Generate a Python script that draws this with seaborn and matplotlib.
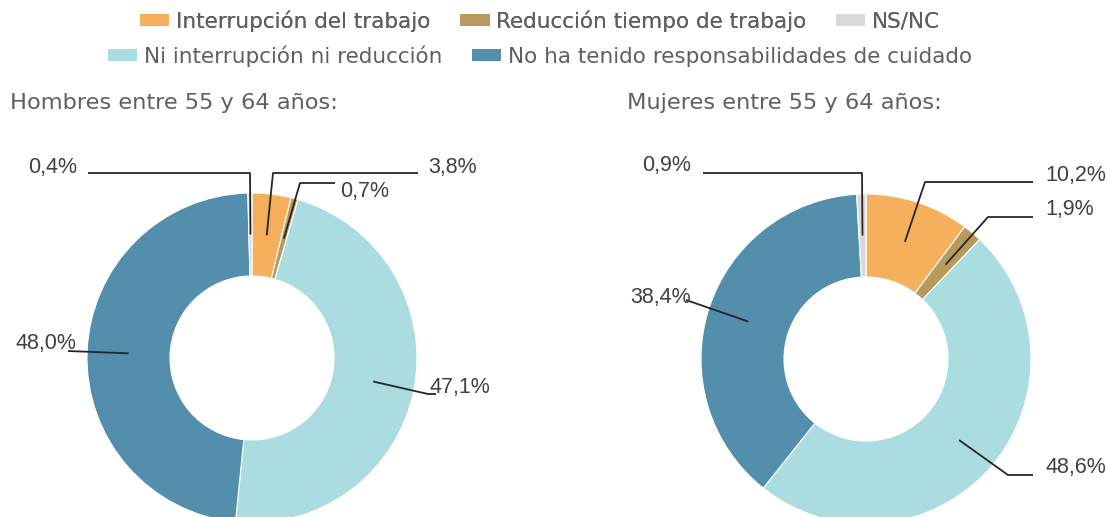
import numpy as np
import matplotlib
matplotlib.use("Agg")
import matplotlib.pyplot as plt
from matplotlib.patches import Patch
import seaborn as sns

# Categories in drawing order (clockwise from 12 o'clock)
categorias = [
    "Interrupción del trabajo",
    "Reducción tiempo de trabajo",
    "Ni interrupción ni reducción",
    "No ha tenido responsabilidades de cuidado",
    "NS/NC",
]
hombres = [3.8, 0.7, 47.1, 48.0, 0.4]
mujeres = [10.2, 1.9, 48.6, 38.4, 0.9]
titulos = ["Hombres entre 55 y 64 años:", "Mujeres entre 55 y 64 años:"]

colores = sns.color_palette(["#F6AF5C", "#B79A5C", "#AADCE0", "#538EAD", "#D9D9D9"])

sns.set_theme(style="white")
plt.rcParams["font.family"] = ["Liberation Sans", "DejaVu Sans"]
SANS_UI = ["DejaVu Sans"]

W, H = 1107, 517
fig = plt.figure(figsize=(W / 100, H / 100), dpi=100)
ax = fig.add_axes([0, 0, 1, 1])


def Y(p):
    """Convert a top-down pixel row to the axes' y coordinate."""
    return H - p


R_OUT, R_IN = 165, 82
R_ANCHOR = (R_OUT + R_IN) / 2

donuts = [
    dict(values=hombres, cx=252, cy=358, title=titulos[0], tx=10,
         # per-slice leader: list of pixel points after the anchor, text pos, ha
         leaders=[
             ([(273, 173), (418, 173)], (428, 168), "left"),
             ([(300, 183), (335, 183)], (340, 192), "left"),
             ([(428, 394), (436, 394)], (430, 388), "left"),
             ([(68, 351)], (76, 343), "right"),
             ([(250, 173), (88, 173)], (77, 167), "right"),
         ]),
    dict(values=mujeres, cx=866, cy=359, title=titulos[1], tx=627,
         leaders=[
             ([(925, 182), (1033, 182)], (1045, 175), "left"),
             ([(988, 217), (1033, 217)], (1045, 210), "left"),
             ([(1008, 475), (1033, 475)], (1045, 468), "left"),
             ([(686, 300)], (691, 297), "right"),
             ([(862, 173), (703, 173)], (691, 166), "right"),
         ]),
]

for d in donuts:
    vals = d["values"]
    ax.pie(vals, colors=colores, startangle=90, counterclock=False,
           radius=R_OUT, center=(d["cx"], Y(d["cy"])),
           wedgeprops=dict(width=R_OUT - R_IN, edgecolor="white", linewidth=0.8))
    # leader lines anchored at the middle of each wedge
    start = 90.0
    for v, (pts, (tx, ty), ha) in zip(vals, d["leaders"]):
        mid = np.deg2rad(start - v * 3.6 / 2)
        start -= v * 3.6
        ax_x = d["cx"] + R_ANCHOR * np.cos(mid)
        ax_y = Y(d["cy"]) + R_ANCHOR * np.sin(mid)
        xs = [ax_x] + [p[0] for p in pts]
        ys = [ax_y] + [Y(p[1]) for p in pts]
        ax.plot(xs, ys, color="#262626", lw=1.3, solid_capstyle="butt", zorder=5)
        ax.text(tx, Y(ty), f"{v:.1f}%".replace(".", ","), ha=ha, va="center",
                fontsize=15.5, color="#404040", zorder=6)
    ax.text(d["tx"], Y(103), d["title"], ha="left", va="center",
            fontsize=16.2, color="#5f5f5f", family=SANS_UI)

ax.set_xlim(0, W)
ax.set_ylim(0, H)
ax.set_aspect("equal")
ax.axis("off")

# Legend in two centred rows
handles = {c: Patch(facecolor=col, edgecolor="none") for c, col in zip(categorias, colores)}
rows = [
    ["Interrupción del trabajo", "Reducción tiempo de trabajo", "NS/NC"],
    ["Ni interrupción ni reducción", "No ha tenido responsabilidades de cuidado"],
]
for i, (row, yc) in enumerate(zip(rows, [21, 56])):
    leg = fig.legend([handles[c] for c in row], row, ncol=len(row),
                     loc="center", bbox_to_anchor=(0.488, 1 - yc / H),
                     frameon=False, handlelength=1.35, handleheight=0.42,
                     handletextpad=0.3, columnspacing=1.4,
                     prop=dict(family=SANS_UI, size=15.5))
    for t in leg.get_texts():
        t.set_color("#5f5f5f")
    if i == 0:
        fig.add_artist(leg)

fig.savefig("out.png", dpi=100)
